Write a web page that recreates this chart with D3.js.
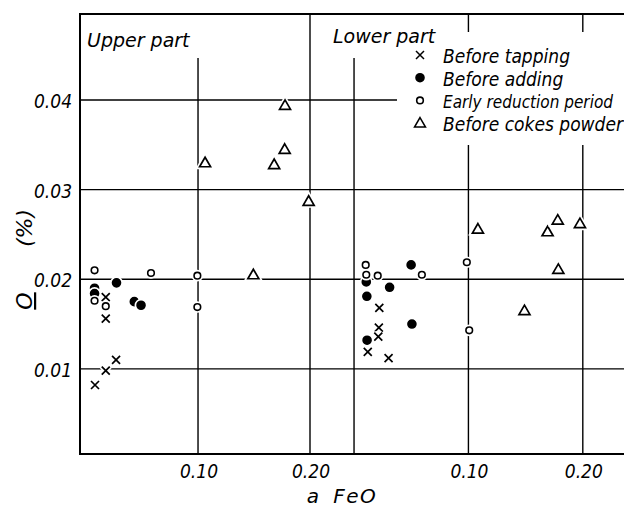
<!DOCTYPE html>
<html>
<head>
<meta charset="utf-8">
<script src="https://cdn.jsdelivr.net/npm/d3@7"></script>
<style>
  body { margin: 0; background: #fff; }
  svg { display: block; }
  text { font-family: "DejaVu Sans", sans-serif; font-style: italic; fill: #000; }
  .cond { font-family: "DejaVu Sans Condensed", "DejaVu Sans", sans-serif; }
</style>
</head>
<body>
<svg width="624" height="509"></svg>
<script>
const width = 624,
  height = 509;

// values: [a FeO, O %]
const upperTapping = [[0.0176, 0.0180], [0.0176, 0.0156], [0.0176, 0.0098], [0.0268, 0.0110], [0.0080, 0.0082]];
const upperAdding = [[0.0076, 0.0190], [0.0076, 0.0184], [0.0272, 0.0196], [0.0431, 0.0175], [0.0491, 0.0171]];
const upperEarly = [[0.0076, 0.0210], [0.058, 0.0207], [0.0994, 0.0204], [0.0994, 0.0169], [0.0076, 0.0176], [0.0176, 0.0170]];
const upperCokes = [[0.1494, 0.0205], [0.1777, 0.0394], [0.1774, 0.0345], [0.168, 0.0328], [0.1063, 0.0330], [0.1988, 0.0287]];

const lowerTapping = [[0.0221, 0.0168], [0.0217, 0.0146], [0.0212, 0.0136], [0.012, 0.0119], [0.0302, 0.0112]];
const lowerAdding = [[0.0107, 0.0197], [0.0311, 0.0191], [0.0112, 0.0181], [0.0499, 0.0216], [0.0506, 0.0150], [0.0114, 0.0132]];
const lowerEarly = [[0.0102, 0.0216], [0.0107, 0.0205], [0.0207, 0.0204], [0.0593, 0.0205], [0.0986, 0.0219], [0.1007, 0.0143]];
const lowerCokes = [[0.1083, 0.0256], [0.1692, 0.0253], [0.1781, 0.0266], [0.1975, 0.0262], [0.1786, 0.0211], [0.149, 0.0165]];

const yTicks = [0.01, 0.02, 0.03, 0.04];
const xTicks = [0.1, 0.2];
const legendLabels = ["Before tapping", "Before adding", "Early reduction period", "Before cokes powder"];
const legendKinds = ["cross", "dot", "circle", "triangle"];

const svg = d3.select("svg");

const y = d3.scaleLinear().domain([0.0005, 0.0496]).range([454, 14]);
const xUpper = d3.scaleLinear().domain([-0.0054, 0.2]).range([80, 310]);
const xLower = d3.scaleLinear().domain([-0.0385, 0.25]).range([310, 640]);

const frameLeft = 80, frameRight = 640, frameTop = 14, frameBottom = 454, gridTop = 58;

// horizontal grid
svg.selectAll("line.hgrid")
  .data(yTicks)
  .enter()
  .append("line")
  .attr("x1", frameLeft)
  .attr("x2", frameRight)
  .attr("y1", d => y(d))
  .attr("y2", d => y(d))
  .attr("stroke", "#000")
  .attr("stroke-width", 1.4);

// vertical grid
const vLines = [
  { x: xUpper(0.1), y1: gridTop },
  { x: xUpper(0.2), y1: frameTop },
  { x: xLower(0), y1: gridTop },
  { x: xLower(0.1), y1: frameTop },
  { x: xLower(0.2), y1: frameTop }
];
svg.selectAll("line.vgrid")
  .data(vLines)
  .enter()
  .append("line")
  .attr("x1", d => d.x)
  .attr("x2", d => d.x)
  .attr("y1", d => d.y1)
  .attr("y2", frameBottom)
  .attr("stroke", "#000")
  .attr("stroke-width", 1.4);

// frame
svg.append("path")
  .attr("d", `M${frameRight},${frameTop} L${frameLeft},${frameTop} L${frameLeft},${frameBottom} L${frameRight},${frameBottom}`)
  .attr("fill", "none")
  .attr("stroke", "#000")
  .attr("stroke-width", 2);

// legend background hides grid behind it
svg.append("rect")
  .attr("x", 397)
  .attr("y", 32)
  .attr("width", 240)
  .attr("height", 113)
  .attr("fill", "#fff");

const markerPath = (kind, cx, cy) => {
  if (kind === "cross")
    return `M${cx - 4},${cy - 4}L${cx + 4},${cy + 4}M${cx - 4},${cy + 4}L${cx + 4},${cy - 4}`;
  if (kind === "triangle")
    return `M${cx},${cy - 5.5}L${cx + 5.5},${cy + 4}L${cx - 5.5},${cy + 4}Z`;
  return null;
};

const drawMarkers = (data, xs, kind) => {
  const g = svg.append("g");
  data.forEach(d => {
    const cx = xs(d[0]), cy = y(d[1]);
    if (kind === "dot" || kind === "circle") {
      g.append("circle")
        .attr("cx", cx).attr("cy", cy).attr("r", kind === "dot" ? 4 : 3.3)
        .attr("fill", "#fff").attr("stroke", "#fff").attr("stroke-width", 5);
      g.append("circle")
        .attr("cx", cx).attr("cy", cy).attr("r", kind === "dot" ? 4 : 3.3)
        .attr("fill", kind === "dot" ? "#000" : "#fff")
        .attr("stroke", "#000").attr("stroke-width", 1.6);
    } else {
      g.append("path").attr("d", markerPath(kind, cx, cy))
        .attr("fill", "#fff").attr("stroke", "#fff").attr("stroke-width", 5);
      g.append("path").attr("d", markerPath(kind, cx, cy))
        .attr("fill", "#fff").attr("stroke", "#000").attr("stroke-width", 1.7);
    }
  });
};

drawMarkers(upperTapping, xUpper, "cross");
drawMarkers(upperAdding, xUpper, "dot");
drawMarkers(upperEarly, xUpper, "circle");
drawMarkers(upperCokes, xUpper, "triangle");
drawMarkers(lowerTapping, xLower, "cross");
drawMarkers(lowerAdding, xLower, "dot");
drawMarkers(lowerEarly, xLower, "circle");
drawMarkers(lowerCokes, xLower, "triangle");

// legend
const legend = svg.append("g");
legendKinds.forEach((kind, i) => {
  const cy = 55 + i * 22.7;
  const cx = 420;
  if (kind === "dot" || kind === "circle") {
    legend.append("circle")
      .attr("cx", cx).attr("cy", cy).attr("r", kind === "dot" ? 4 : 3.3)
      .attr("fill", kind === "dot" ? "#000" : "#fff")
      .attr("stroke", "#000").attr("stroke-width", 1.6);
  } else {
    legend.append("path").attr("d", markerPath(kind, cx, cy))
      .attr("fill", "#fff").attr("stroke", "#000").attr("stroke-width", 1.5);
  }
  const t = legend.append("text")
    .attr("class", "cond")
    .attr("x", 443)
    .attr("y", cy + 8)
    .attr("font-size", 19)
    .text(legendLabels[i]);
  // squeeze the long label so it stays inside the window
  if (legendLabels[i].length > 20)
    t.attr("font-size", 18).attr("textLength", 170).attr("lengthAdjust", "spacingAndGlyphs");
});

// panel titles
svg.append("text").attr("x", 87).attr("y", 47).attr("font-size", 19).text("Upper part");
svg.append("text").attr("x", 333).attr("y", 43).attr("font-size", 19).text("Lower part");

// y tick labels
svg.selectAll("text.ytick")
  .data(yTicks)
  .enter()
  .append("text")
  .attr("class", "cond")
  .attr("x", 72)
  .attr("y", d => y(d) + 8)
  .attr("text-anchor", "end")
  .attr("font-size", 19)
  .text(d3.format(".2f"));

// x tick labels
[xUpper, xLower].forEach(xs => {
  svg.selectAll(null)
    .data(xTicks)
    .enter()
    .append("text")
    .attr("class", "cond")
    .attr("x", d => xs(d) + 1)
    .attr("y", 478)
    .attr("text-anchor", "middle")
    .attr("font-size", 19)
    .text(d3.format(".2f"));
});

// axis titles
svg.append("text")
  .attr("x", 342)
  .attr("y", 503)
  .attr("text-anchor", "middle")
  .attr("font-size", 20)
  .attr("letter-spacing", 1.5)
  .attr("word-spacing", 5)
  .text("a FeO");

svg.append("text")
  .attr("transform", "translate(32,301) rotate(-90)")
  .attr("text-anchor", "middle")
  .attr("font-size", 22)
  .attr("text-decoration", "underline")
  .text("O");

svg.append("text")
  .attr("transform", "translate(32,228) rotate(-90)")
  .attr("text-anchor", "middle")
  .attr("font-size", 22)
  .text("(%)");
</script>
</body>
</html>
